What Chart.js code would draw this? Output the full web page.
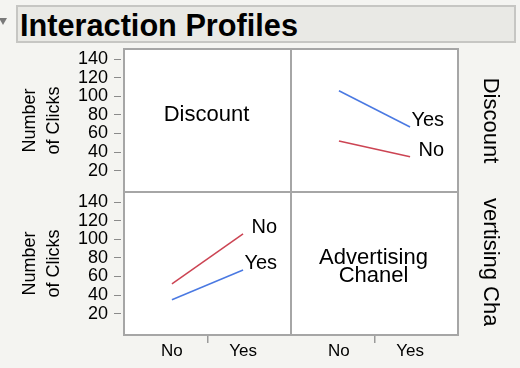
<!DOCTYPE html>
<html>
<head>
<meta charset="utf-8">
<title>Interaction Profiles</title>
<script src="https://cdn.jsdelivr.net/npm/chart.js@4.4.1/dist/chart.umd.min.js"></script>
<style>
  body { margin: 0; background: #f4f4f1; font-family: "Liberation Sans", Arial, sans-serif; }
  #wrap { position: relative; width: 520px; height: 368px; overflow: hidden; }
  #title {
    position: absolute; left: 16px; top: 5px; width: 500px; height: 38px;
    box-sizing: border-box; background: #e9e9e5; border: 2px solid #c6c6c3;
    font-weight: bold; font-size: 30.7px; line-height: 37px; padding-left: 2px;
    color: #000; white-space: nowrap;
  }
  #tri {
    position: absolute; left: -1px; top: 18px; width: 0; height: 0;
    border-left: 4px solid transparent; border-right: 4px solid transparent;
    border-top: 7px solid #7a7a7a;
  }
  #chart { position: absolute; left: 0; top: 0; }
</style>
</head>
<body>
<div id="wrap">
  <canvas id="chart" width="520" height="368"></canvas>
  <div id="tri"></div>
  <div id="title">Interaction Profiles</div>
</div>
<script>
// factor levels and axis ticks
const levels = ['No', 'Yes'];
const factors = ['Discount', 'Advertising Chanel'];
const yTicks = [20, 40, 60, 80, 100, 120, 140];

// mean Number of Clicks vs Advertising Chanel (top right), one line per Discount level
const discountYes = [106, 67];
const discountNo = [52, 35];
// mean Number of Clicks vs Discount (bottom left), one line per Advertising Chanel level
const advertNo = [52, 106];
const advertYes = [35, 67];

const blue = '#4a79e2';
const red = '#cc4453';
const font = '"Liberation Sans", Arial, sans-serif';

function pts(vals) {
    return vals.map((v, i) => ({ x: i, y: v }));
}

function xScale() {
    return {
        type: 'linear', position: 'bottom', stack: 'x', stackWeight: 1,
        min: -0.674, max: 1.674,
        afterBuildTicks: s => { s.ticks = [0, 0.5, 1].map(v => ({ value: v })); },
        afterFit: s => { s.height = 33; },
        ticks: {
            autoSkip: false, maxRotation: 0, padding: -2, color: '#000',
            font: { family: font, size: 17 },
            callback: v => levels[v] ?? ''
        },
        grid: {
            drawOnChartArea: false, tickLength: 8, lineWidth: 1.5,
            color: c => (c.tick && c.tick.value === 0.5) ? '#9a9a9a' : 'rgba(0,0,0,0)'
        },
        border: { display: false }
    };
}

function yScale() {
    return {
        type: 'linear', position: 'left', stack: 'y', stackWeight: 1,
        min: -3, max: 151,
        afterBuildTicks: s => { s.ticks = yTicks.map(v => ({ value: v })); },
        afterFit: s => { s.width = 124; },
        ticks: { autoSkip: false, padding: 6, color: '#000', font: { family: font, size: 18 } },
        grid: { drawOnChartArea: false, tickLength: 10, tickBorderDash: [7, 10], color: '#8a8a8a' },
        border: { display: false },
        title: {
            display: true, text: ['Number', 'of Clicks'], color: '#000',
            font: { family: font, size: 18, lineHeight: 1.33 }, padding: { top: 18 }
        }
    };
}

// white cells, cell borders, factor names and line-end labels
const panels = {
    id: 'panels',
    beforeDraw(chart) {
        const { ctx, chartArea: a } = chart;
        ctx.save();
        ctx.fillStyle = '#fff';
        ctx.fillRect(a.left, a.top, a.width, a.height);
        ctx.restore();
    },
    afterDatasetsDraw(chart) {
        const { ctx, chartArea: a, scales } = chart;
        ctx.save();
        ctx.strokeStyle = '#a6a6a6';
        ctx.lineWidth = 2;
        ctx.strokeRect(a.left, a.top, a.width, a.height);
        ctx.beginPath();
        ctx.moveTo(scales.xL.right, a.top);
        ctx.lineTo(scales.xL.right, a.bottom);
        ctx.moveTo(a.left, scales.yT.bottom);
        ctx.lineTo(a.right, scales.yT.bottom);
        ctx.stroke();

        ctx.fillStyle = '#000';
        // factor names on the diagonal
        const diag = [[scales.xL, scales.yT], [scales.xR, scales.yB]];
        ctx.font = '22px ' + font;
        ctx.textAlign = 'center';
        ctx.textBaseline = 'alphabetic';
        diag.forEach(([xs, ys], i) => {
            const cx = (xs.left + xs.right) / 2 - 1;
            const cy = (ys.top + ys.bottom) / 2;
            factors[i].split(' ').forEach((w, j) => ctx.fillText(w, cx, cy + 18 * j));
        });

        // factor names down the right side, clipped to the row
        [scales.yT, scales.yB].forEach((ys, i) => {
            ctx.save();
            ctx.beginPath();
            ctx.rect(a.right, ys.top + 6, 60, ys.bottom - ys.top - 15);
            ctx.clip();
            ctx.translate(a.right + 32, (ys.top + ys.bottom) / 2);
            ctx.rotate(Math.PI / 2);
            ctx.textBaseline = 'middle';
            ctx.fillText(factors[i], 0, 0);
            ctx.restore();
        });

        // level labels at the end of each line
        ctx.font = '20px ' + font;
        ctx.textAlign = 'right';
        chart.data.datasets.forEach((ds, i) => {
            const pts = chart.getDatasetMeta(i).data;
            const end = pts[pts.length - 1];
            ctx.fillText(ds.label, end.x + 34, end.y - 1);
        });
        ctx.restore();
    }
};

new Chart(document.getElementById('chart'), {
    type: 'line',
    data: {
        datasets: [
            { label: 'Yes', data: pts(discountYes), borderColor: blue, xAxisID: 'xR', yAxisID: 'yT' },
            { label: 'No', data: pts(discountNo), borderColor: red, xAxisID: 'xR', yAxisID: 'yT' },
            { label: 'No', data: pts(advertNo), borderColor: red, xAxisID: 'xL', yAxisID: 'yB' },
            { label: 'Yes', data: pts(advertYes), borderColor: blue, xAxisID: 'xL', yAxisID: 'yB' }
        ]
    },
    options: {
        responsive: false,
        animation: false,
        events: [],
        layout: { padding: { top: 49, right: 62, bottom: 0, left: 0 } },
        elements: {
            line: { borderWidth: 1.5, tension: 0 },
            point: { radius: 0 }
        },
        plugins: { legend: { display: false }, tooltip: { enabled: false } },
        // left axes are stacked in reverse order, so the bottom row is listed first
        scales: { xL: xScale(), xR: xScale(), yB: yScale(), yT: yScale() }
    },
    plugins: [panels]
});
</script>
</body>
</html>
